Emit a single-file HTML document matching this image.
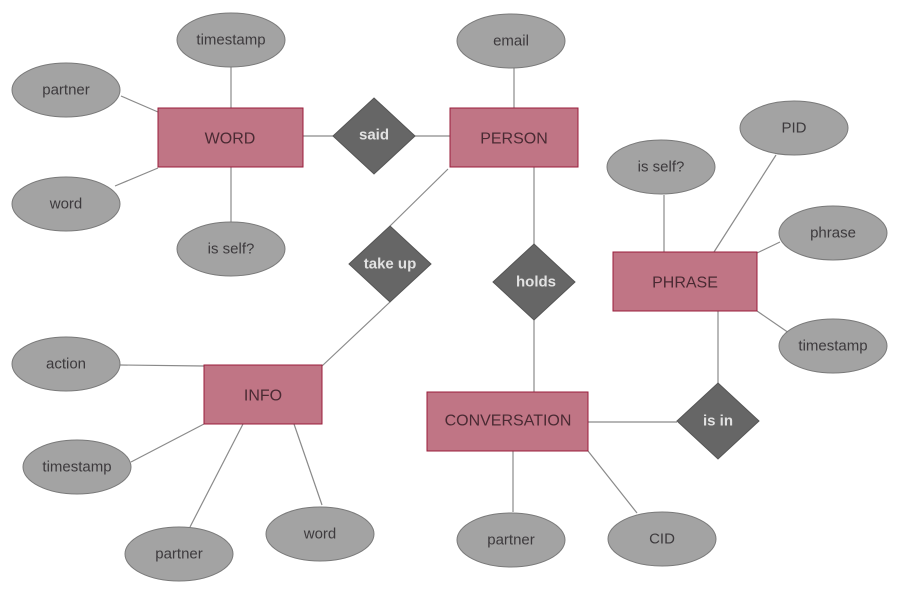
<!DOCTYPE html>
<html><head><meta charset="utf-8"><style>
html,body{margin:0;padding:0;background:#fff}
svg{display:block}
text{font-family:"Liberation Sans",sans-serif;text-anchor:middle;dominant-baseline:central}
.e{fill:#a3a3a3;stroke:#7a7a7a;stroke-width:1}
.et{fill:#3d3a3d;font-size:15px}
.r{fill:#c07585;stroke:#9a1c3a;stroke-width:1}
.rt{fill:#4a2a33;font-size:16px}
.d{fill:#666;stroke:#555;stroke-width:1}
.dt{fill:#e2e2e2;font-size:15px;font-weight:bold}
line{stroke:#8a8a8a;stroke-width:1.2}
</style></head><body>
<svg width="900" height="595" viewBox="0 0 900 595">
<g>
<line x1="231" y1="67" x2="231" y2="108"/>
<line x1="121" y1="96" x2="158" y2="112"/>
<line x1="115" y1="186" x2="158" y2="168"/>
<line x1="231" y1="167" x2="231" y2="222"/>
<line x1="303" y1="136" x2="333" y2="136"/>
<line x1="415" y1="136" x2="450" y2="136"/>
<line x1="514" y1="68" x2="514" y2="108"/>
<line x1="448" y1="169" x2="390" y2="226"/>
<line x1="390" y1="302" x2="322" y2="366"/>
<line x1="534" y1="167" x2="534" y2="244"/>
<line x1="534" y1="320" x2="534" y2="392"/>
<line x1="664" y1="195" x2="664" y2="252"/>
<line x1="776" y1="155" x2="714" y2="252"/>
<line x1="780" y1="242" x2="757" y2="253"/>
<line x1="789" y1="333" x2="757" y2="311"/>
<line x1="718" y1="311" x2="718" y2="383"/>
<line x1="677" y1="422" x2="588" y2="422"/>
<line x1="513" y1="451" x2="513" y2="512"/>
<line x1="637" y1="513" x2="588" y2="451"/>
<line x1="120" y1="365" x2="204" y2="366"/>
<line x1="131" y1="462" x2="204" y2="424"/>
<line x1="190" y1="527" x2="243" y2="424"/>
<line x1="322" y1="505" x2="294" y2="424"/>
</g>
<g>
<ellipse class="e" cx="231" cy="40" rx="54" ry="27"/><text class="et" x="231" y="40">timestamp</text>
<ellipse class="e" cx="66" cy="90" rx="54" ry="27"/><text class="et" x="66" y="90">partner</text>
<ellipse class="e" cx="66" cy="204" rx="54" ry="27"/><text class="et" x="66" y="204">word</text>
<ellipse class="e" cx="231" cy="249" rx="54" ry="27"/><text class="et" x="231" y="249">is self?</text>
<ellipse class="e" cx="511" cy="41" rx="54" ry="27"/><text class="et" x="511" y="41">email</text>
<ellipse class="e" cx="794" cy="128" rx="54" ry="27"/><text class="et" x="794" y="128">PID</text>
<ellipse class="e" cx="661" cy="167" rx="54" ry="27"/><text class="et" x="661" y="167">is self?</text>
<ellipse class="e" cx="833" cy="233" rx="54" ry="27"/><text class="et" x="833" y="233">phrase</text>
<ellipse class="e" cx="833" cy="346" rx="54" ry="27"/><text class="et" x="833" y="346">timestamp</text>
<ellipse class="e" cx="66" cy="364" rx="54" ry="27"/><text class="et" x="66" y="364">action</text>
<ellipse class="e" cx="77" cy="467" rx="54" ry="27"/><text class="et" x="77" y="467">timestamp</text>
<ellipse class="e" cx="179" cy="554" rx="54" ry="27"/><text class="et" x="179" y="554">partner</text>
<ellipse class="e" cx="320" cy="534" rx="54" ry="27"/><text class="et" x="320" y="534">word</text>
<ellipse class="e" cx="511" cy="540" rx="54" ry="27"/><text class="et" x="511" y="540">partner</text>
<ellipse class="e" cx="662" cy="539" rx="54" ry="27"/><text class="et" x="662" y="539">CID</text>
</g>
<g>
<rect class="r" x="158" y="108" width="145" height="59"/><text class="rt" x="230" y="139">WORD</text>
<rect class="r" x="450" y="108" width="128" height="59"/><text class="rt" x="514" y="139">PERSON</text>
<rect class="r" x="613" y="252" width="144" height="59"/><text class="rt" x="685" y="283">PHRASE</text>
<rect class="r" x="204" y="365" width="118" height="59"/><text class="rt" x="263" y="396">INFO</text>
<rect class="r" x="427" y="392" width="161" height="59"/><text class="rt" x="508" y="421">CONVERSATION</text>
</g>
<g>
<polygon class="d" points="374,98 415,136 374,174 333,136"/><text class="dt" x="374" y="135">said</text>
<polygon class="d" points="390,226 431,264 390,302 349,264"/><text class="dt" x="390" y="264">take up</text>
<polygon class="d" points="534,244 575,282 534,320 493,282"/><text class="dt" x="536" y="282">holds</text>
<polygon class="d" points="718,383 759,421 718,459 677,421"/><text class="dt" x="718" y="421">is in</text>
</g>
</svg>
</body></html>
